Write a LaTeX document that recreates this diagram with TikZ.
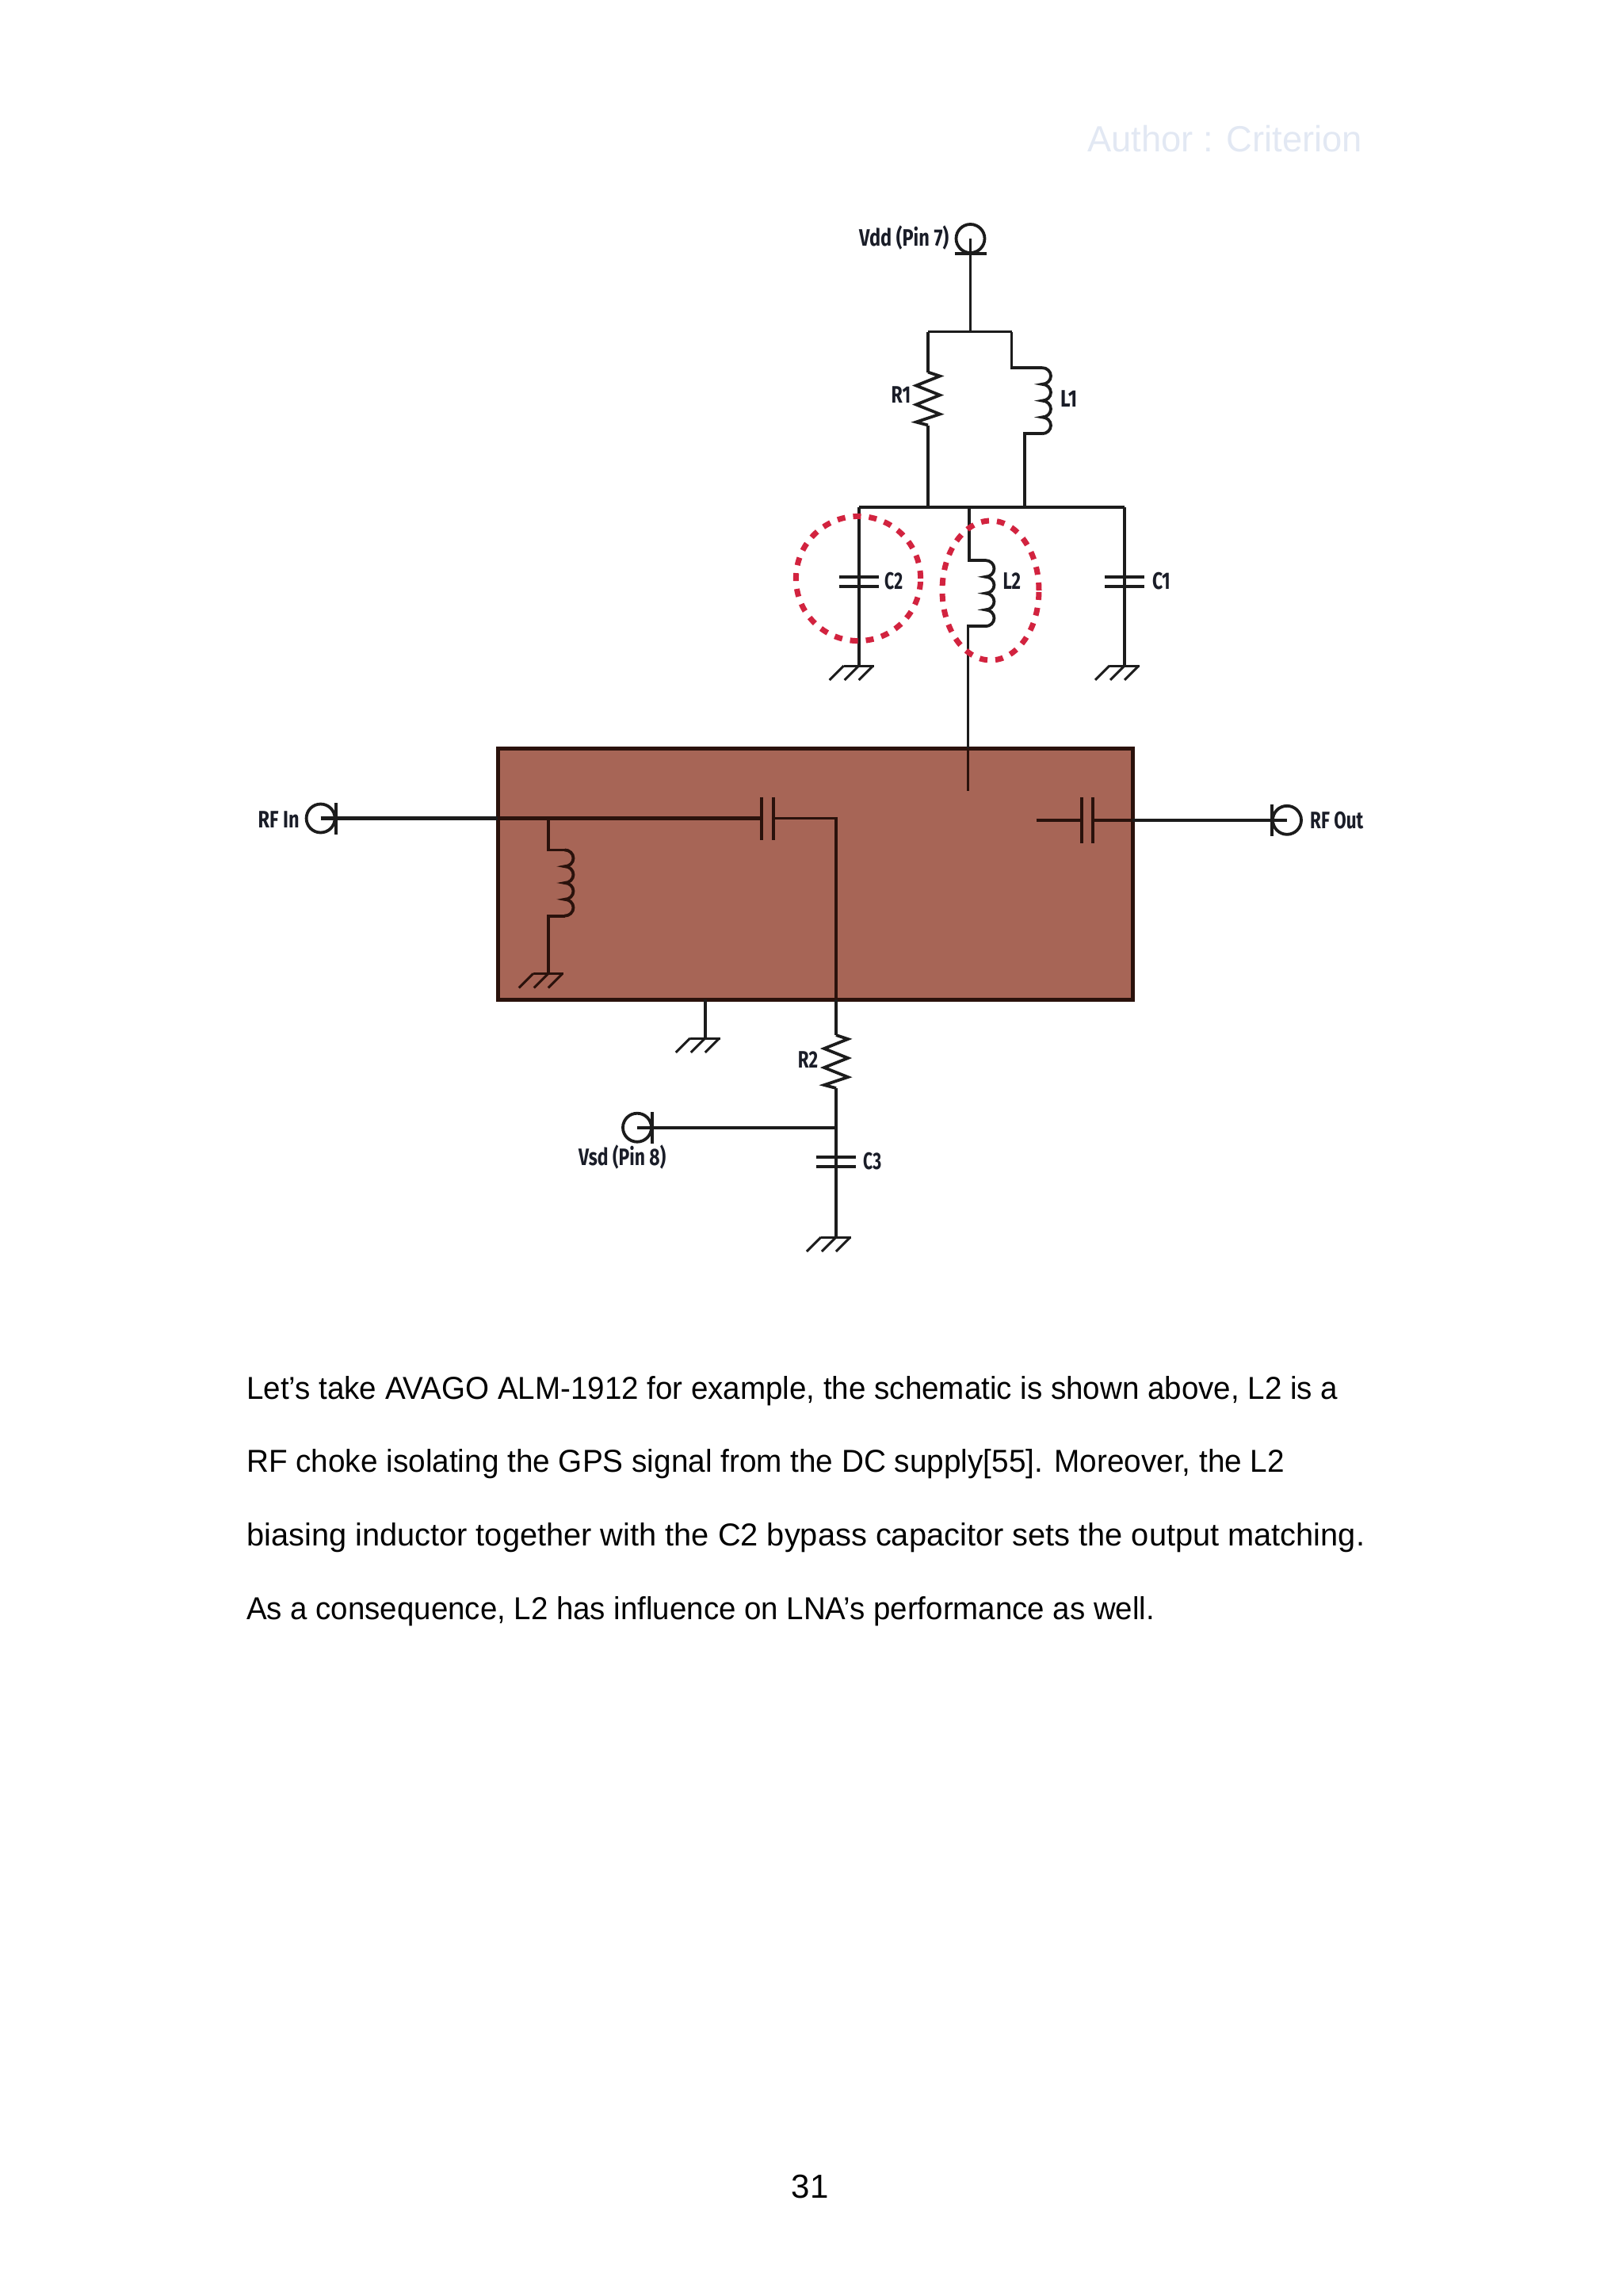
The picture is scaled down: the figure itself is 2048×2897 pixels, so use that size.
\documentclass[tikz,border=0pt]{standalone}
\usepackage{fontspec}
\usepackage{graphicx}
\setmainfont{Liberation Sans}
\newfontfamily\schemfont{Fira Sans}
\definecolor{boxfill}{HTML}{A76556}
\definecolor{boxline}{HTML}{2A120C}
\definecolor{wirecol}{HTML}{1C1C1C}
\definecolor{ringcol}{HTML}{D2233F}
\definecolor{markcol}{HTML}{E2E8F3}
\definecolor{labelcol}{HTML}{1A1D28}
% text squeezed to the width it has on the page
\newcommand{\fitw}[2]{\resizebox{#1pt}{\height}{#2}}
\tikzset{
  wire/.style={draw=wirecol,line width=3.8pt},
  wirein/.style={draw=boxline,line width=3.8pt},
  ring/.style={draw=ringcol,line width=7pt,dash pattern=on 10pt off 10pt},
  lbl/.style={inner sep=0pt,anchor=mid west,yshift=-7pt,text=labelcol,font=\schemfont\bfseries\fontsize{30}{32}\selectfont},
  para/.style={inner sep=0pt,anchor=base west,text=black,font=\fontsize{40}{48}\selectfont},
  gnd/.pic={
    \draw[line width=3pt] (-19,0) -- (19,0);
    \foreach \t in {-19,0,18} \draw[line width=3pt] (\t,0) -- (\t-18,18);
  },
  coil/.pic={
    \draw (0,0) \foreach \n in {1,...,4} {arc[start angle=90,end angle=-90,x radius=11pt,y radius=10.4pt]};
    \coordinate (-b) at (0,83.2);
  },
  zig/.pic={
    \draw (0,0) -- (15,5) -- (-15,17) -- (15,29) -- (-15,41) -- (15,53) -- (-15,63) -- (0,67);
    \coordinate (-b) at (0,67);
  },
  port/.pic={
    \draw (0,0) circle (18pt);
    \draw (-20,19) -- (20,19);
  },
  plates/.pic={
    \draw[line width=4pt] (-25,-6) -- (25,-6) (-25,6) -- (25,6);
  },
}
\begin{document}
\begin{tikzpicture}[x=1pt,y=-1pt]
\useasboundingbox (0,0) rectangle (2048,2897);

% page texts
\node[para,text=markcol,font=\fontsize{46}{50}\selectfont] (mark) at (1372,191) {\fitw{347}{Author : Criterion}};
\node[para] (para1) at (311,1765) {\fitw{1377}{Let’s take AVAGO ALM-1912 for example, the schematic is shown above, L2 is a}};
\node[para] (para2) at (311,1857) {\fitw{1310}{RF choke isolating the GPS signal from the DC supply[55]. Moreover, the L2}};
\node[para] (para3) at (311,1950) {\fitw{1411}{biasing inductor together with the C2 bypass capacitor sets the output matching.}};
\node[para] (para4) at (311,2043) {\fitw{1146}{As a consequence, L2 has influence on LNA’s performance as well.}};
\node[para,anchor=base,font=\fontsize{42}{48}\selectfont] (pageno) at (1022,2773) {31};

% block
\draw[draw=boxline,fill=boxfill,line width=5pt] (628,944) rectangle (1429,1261);

% supply side
\coordinate (vdd) at (1224.5,301);
\coordinate (top) at (1224.5,418.5);
\coordinate (topl) at (1171,418.5);
\coordinate (topr) at (1276.5,418.5);
\coordinate (busl) at (1083.7,640);
\coordinate (busr) at (1419,640);
\coordinate (busr1) at (1171,640);
\coordinate (busl1) at (1293,640);
\coordinate (busm) at (1223,640);
\pic[wire] at (vdd) {port};
\draw[wire] (vdd) -- (top);
\draw[wire] (topl) -- (topr);
\pic[wire] (rone) at (1171,469.5) {zig};
\draw[wire] (topl) -- (1171,469.5);
\draw[wire] (rone-b) -- (busr1);
\pic[wire] (lone) at (1315,464) {coil};
\draw[wire] (topr) |- (1315,464);
\draw[wire] (lone-b) -| (busl1);
\draw[wire,line width=4.5pt] (busl) -- (busr);

% C2 and C1
\foreach \x/\nm in {1083.7/ctwo,1419/cone} {
  \coordinate (\nm p) at (\x,734);
  \coordinate (\nm g) at (\x,840);
  \draw[wire] (\x,640) -- (\nm p) -- (\nm g);
  \pic[wire] at (\nm p) {plates};
  \pic[wire] at (\nm g) {gnd};
}

% L2
\pic[wire] (ltwo) at (1243.5,707) {coil};
\draw[wire] (busm) |- (1243.5,707);
\coordinate (ltwoend) at (1221.4,944);
\draw[wire] (ltwo-b) -| (ltwoend);
\coordinate (ltwoin) at (1221.4,998);
\draw[wirein] (ltwoend) -- (ltwoin);

% rings round C2 and L2
\draw[ring] (1083,730) circle[x radius=78.6pt,y radius=78.6pt];
\draw[ring] (1250,745) circle[x radius=61pt,y radius=88pt];

% RF input
\coordinate (rfin) at (404.6,1032.5);
\coordinate (rfedge) at (628,1032.5);
\coordinate (lshunt) at (691.8,1032.5);
\coordinate (cinl) at (960.7,1032.5);
\coordinate (cinr) at (976,1032.5);
\coordinate (rtwotop) at (1055,1032.5);
\coordinate (edgeb) at (1055,1261);
\pic[wire,rotate=90] at (rfin) {port};
\draw[wire,line width=4.5pt] (rfin) -- (rfedge);
\draw[wirein,line width=4.2pt] (rfedge) -- (cinl);
\draw[wirein] (cinl) ++(0,-27) -- ++(0,54);
\draw[wirein] (cinr) ++(0,-27) -- ++(0,54);
\draw[wirein] (cinr) -- (rtwotop) -- (edgeb);

% shunt coil
\pic[wirein] (lthree) at (712.5,1072.4) {coil};
\draw[wirein] (lshunt) |- (712.5,1072.4);
\coordinate (lthreeg) at (691.8,1228.5);
\draw[wirein] (lthree-b) -| (lthreeg);
\pic[wirein] at (lthreeg) {gnd};

% RF output
\coordinate (coutl) at (1364.8,1034.8);
\coordinate (coutr) at (1379,1034.8);
\coordinate (outedge) at (1429,1034.8);
\coordinate (rfout) at (1624,1034.8);
\draw[wirein] (1307.6,1034.8) coordinate (outstub) -- (coutl);
\draw[wirein] (coutl) ++(0,-29) -- ++(0,58);
\draw[wirein] (coutr) ++(0,-29) -- ++(0,58);
\draw[wirein] (coutr) -- (outedge);
\draw[wire] (outedge) -- (rfout);
\pic[wire,rotate=-90] at (rfout) {port};

% below the block
\coordinate (gndb) at (889.8,1261);
\coordinate (gndbg) at (889.8,1310);
\draw[wire] (gndb) -- (gndbg);
\pic[wire] at (gndbg) {gnd};
\pic[wire] (rtwo) at (1055,1306) {zig};
\draw[wire] (edgeb) -- (1055,1306);
\coordinate (vsdj) at (1055,1422.7);
\coordinate (vsd) at (804,1422.7);
\coordinate (cthreep) at (1055,1465.7);
\coordinate (cthreeg) at (1055,1561);
\draw[wire] (rtwo-b) -- (cthreeg);
\draw[wire] (vsd) -- (vsdj);
\pic[wire,rotate=90] at (vsd) {port};
\pic[wire] at (cthreep) {plates};
\pic[wire] at (cthreeg) {gnd};

% labels
\node[lbl] (vddlbl) at (1084,301) {\fitw{113}{Vdd (Pin 7)}};
\node[lbl] (rfinlbl) at (325.5,1035) {\fitw{52}{RF In}};
\node[lbl] (rfoutlbl) at (1653,1036) {\fitw{67}{RF Out}};
\node[lbl] (vsdlbl) at (730,1461) {\fitw{110}{Vsd (Pin 8)}};
\node[lbl] (r1lbl) at (1124.5,499) {\fitw{24.5}{R1}};
\node[lbl] (l1lbl) at (1338,504) {\fitw{21}{L1}};
\node[lbl] (c2lbl) at (1116,734) {\fitw{23}{C2}};
\node[lbl] (l2lbl) at (1265.3,734) {\fitw{22.5}{L2}};
\node[lbl] (c1lbl) at (1454,734) {\fitw{22.5}{C1}};
\node[lbl] (r2lbl) at (1006.6,1338) {\fitw{25.4}{R2}};
\node[lbl] (c3lbl) at (1089,1465.5) {\fitw{23}{C3}};
\end{tikzpicture}
\end{document}
